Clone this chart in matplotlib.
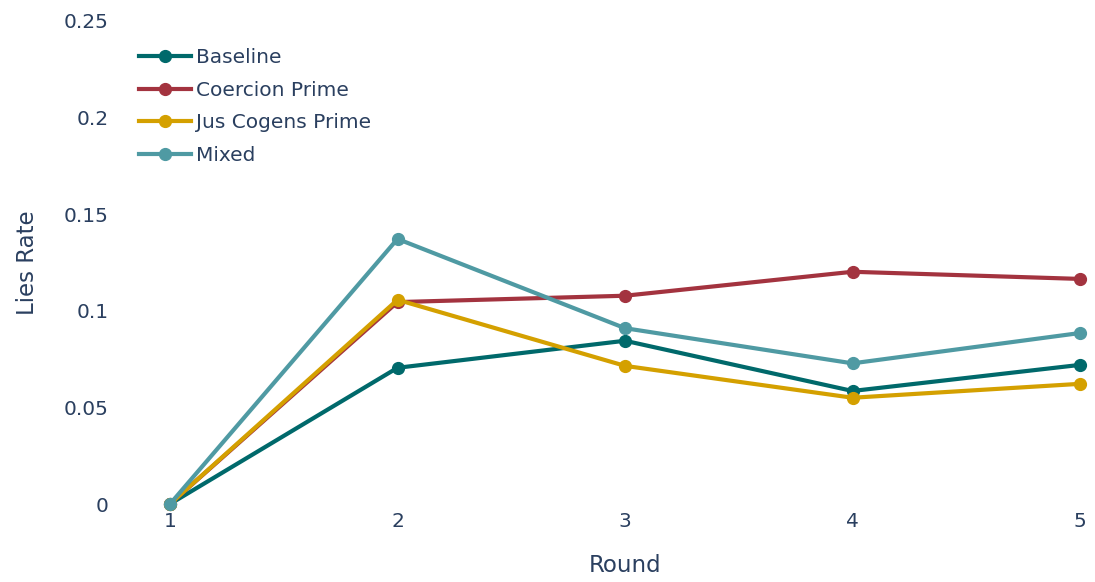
import matplotlib
matplotlib.use("Agg")
import matplotlib.pyplot as plt

# ─── Data ─────────────────────────────────────────────────────────────────────
rounds = [1, 2, 3, 4, 5]
baseline = [0.0, 0.0705, 0.0845, 0.0585, 0.0720]
coercion_prime = [0.0, 0.1045, 0.1078, 0.1202, 0.1165]
jus_cogens_prime = [0.0, 0.1057, 0.0715, 0.0550, 0.0622]
mixed = [0.0, 0.1372, 0.0910, 0.0728, 0.0885]

y_ticks = [0, 0.05, 0.1, 0.15, 0.2, 0.25]
y_tick_labels = ["0", "0.05", "0.1", "0.15", "0.2", "0.25"]

SERIES = [
    ("Baseline", baseline, "#00696b"),
    ("Coercion Prime", coercion_prime, "#a3333f"),
    ("Jus Cogens Prime", jus_cogens_prime, "#d4a000"),
    ("Mixed", mixed, "#4f9aa3"),
]

TEXT_COLOR = "#2a3f5f"

# ─── Plot ─────────────────────────────────────────────────────────────────────
fig = plt.figure(figsize=(10.95, 5.82), dpi=100, facecolor="white")
ax = fig.add_axes([170 / 1095, 78 / 582, 910 / 1095, 483 / 582])

for name, values, color in SERIES:
    ax.plot(rounds, values, color=color, linewidth=3.0, marker="o",
            markersize=8.5, label=name, clip_on=False, zorder=3)

ax.set_xlim(1, 5)
ax.set_ylim(0, 0.25)
ax.set_xticks(rounds)
ax.set_xticklabels([str(r) for r in rounds])
ax.set_yticks(y_ticks)
ax.set_yticklabels(y_tick_labels)

ax.tick_params(axis="both", length=0, labelsize=14.5, colors=TEXT_COLOR)
ax.tick_params(axis="y", pad=44)
ax.tick_params(axis="x", pad=6)

for spine in ax.spines.values():
    spine.set_visible(False)

ax.set_xlabel("Round", fontsize=16.5, color=TEXT_COLOR, labelpad=16)
ax.set_ylabel("Lies Rate", fontsize=16.5, color=TEXT_COLOR, labelpad=18)

ax.legend(loc="upper left", bbox_to_anchor=(131 / 1095, 1 - 40 / 582),
          bbox_transform=fig.transFigure, frameon=False, fontsize=14.5,
          labelcolor=TEXT_COLOR, handlelength=2.6, handletextpad=0.25,
          labelspacing=0.68, borderaxespad=0)

fig.savefig("out.png", dpi=100, facecolor="white")
